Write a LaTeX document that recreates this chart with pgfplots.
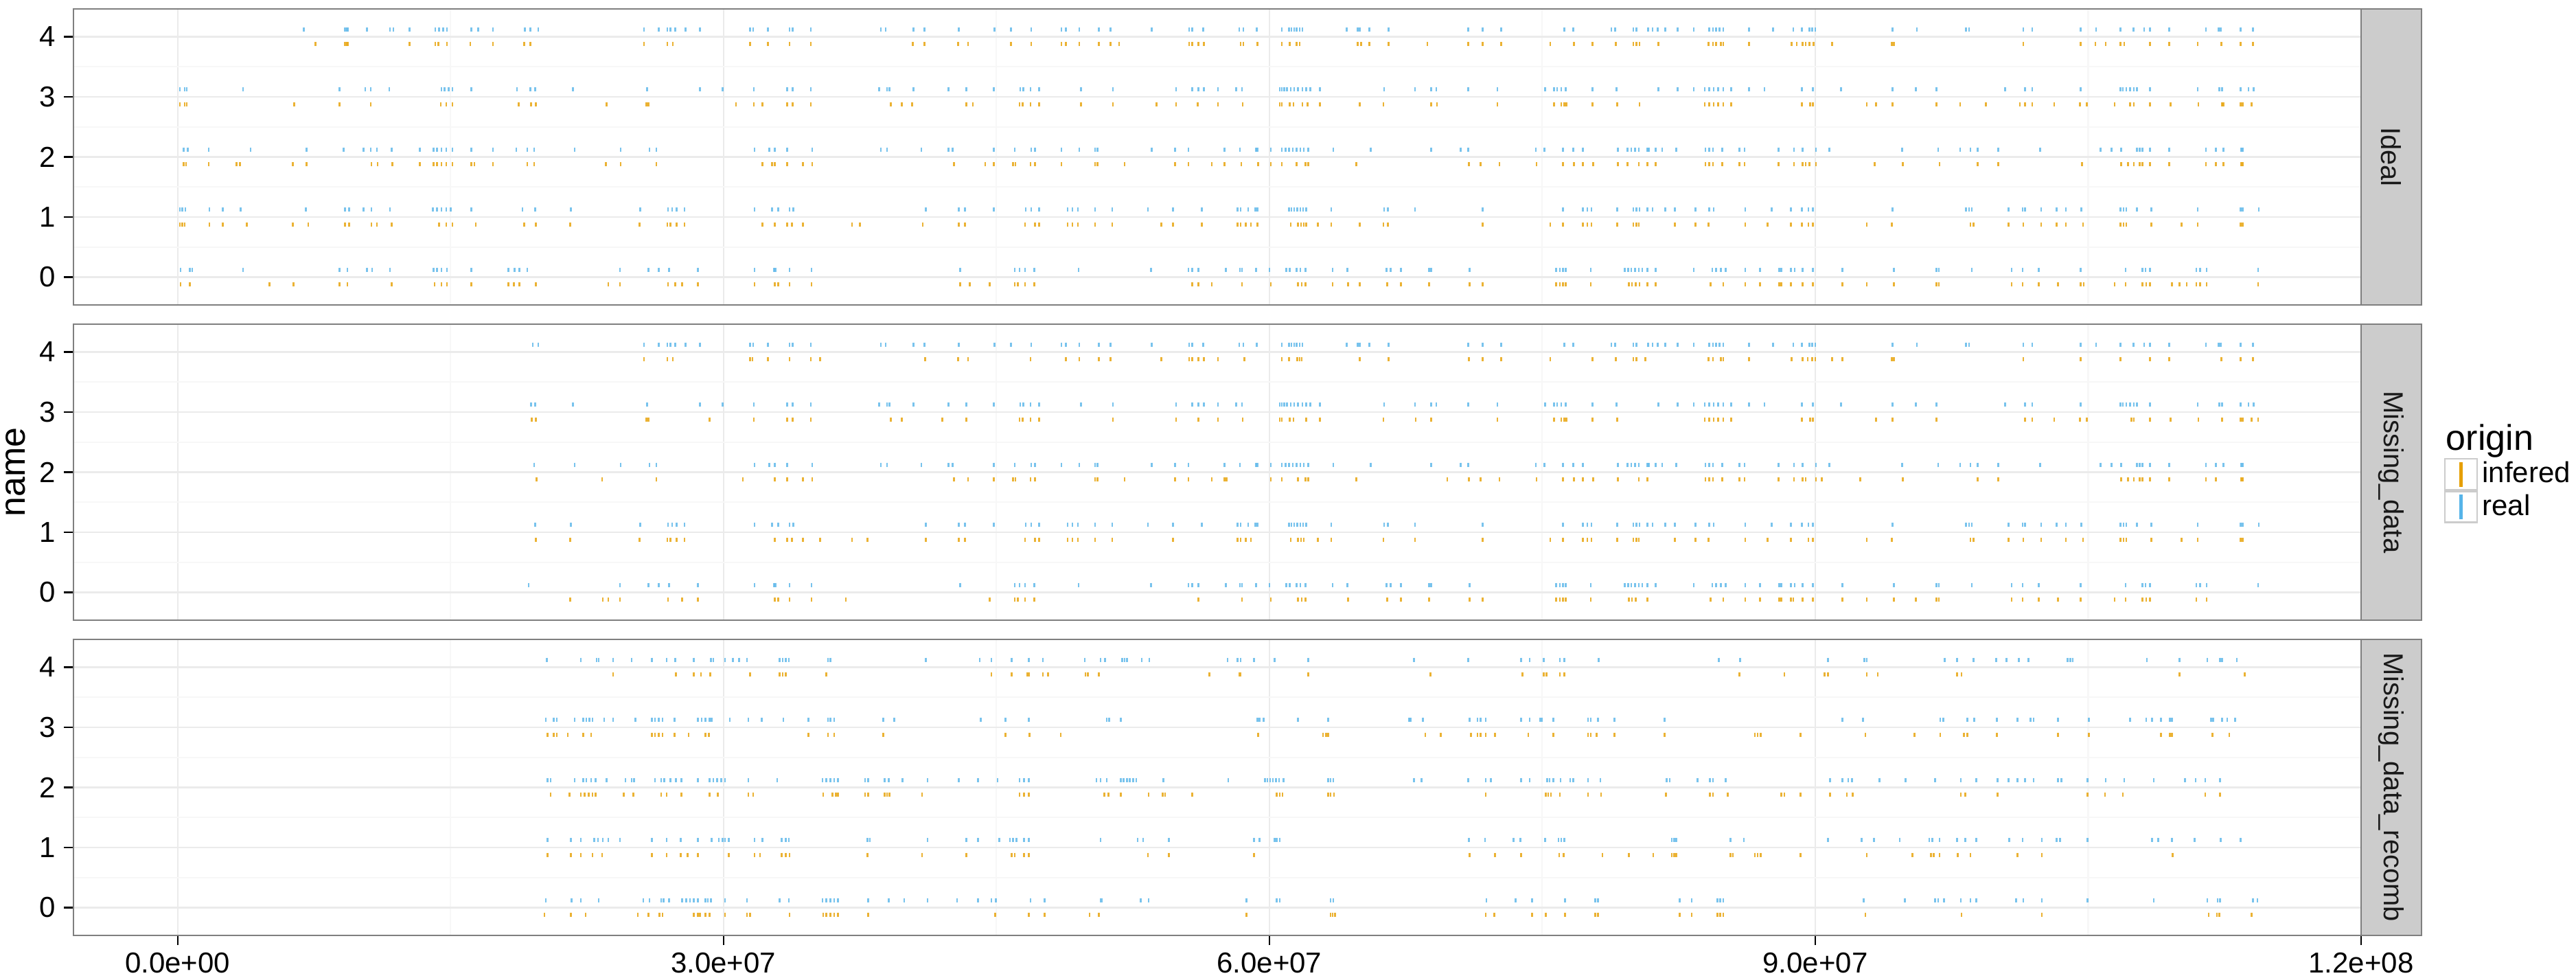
\documentclass[border=0pt]{standalone}
\usepackage{pgfplots}
\pgfplotsset{compat=1.18}
\usepackage{fontspec}
\setmainfont{Liberation Sans}
\definecolor{cinf}{HTML}{E69F00}
\definecolor{creal}{HTML}{56B4E9}
\definecolor{g50}{HTML}{7F7F7F}
\definecolor{g80}{HTML}{CCCCCC}
\definecolor{g90}{HTML}{EBEBEB}
\definecolor{g98}{HTML}{F7F7F7}
\pgfplotsset{
 facet/.style={
   scale only axis, width=833pt, height=107.75pt,
   xmin=-5.72, xmax=120, ymin=-0.4625, ymax=4.4625,
   xtick={0,30,60,90,120}, minor xtick={15,45,75,105},
   ytick={0,1,2,3,4}, minor ytick={0.5,1.5,2.5,3.5},
   yticklabels={0,1,2,3,4},
   grid=both,
   major grid style={draw=g90, line width=0.55pt},
   minor grid style={draw=g98, line width=0.55pt},
   axis line style={draw=g50, line width=0.5pt},
   tick align=outside, tick pos=left,
   major tick length=3.5pt, minor tick length=0pt,
   tick style={black, line width=0.55pt},
   yticklabel style={font=\fontsize{10.5}{12}\selectfont, inner sep=0pt, xshift=-2.75pt},
   xticklabel style={font=\fontsize{10.5}{12}\selectfont, inner sep=0pt, yshift=-2.5pt},
 },
 inf/.style={forget plot, only marks, mark=|, mark size=0.75pt, color=cinf, mark options={line width=0.65pt, draw opacity=0.8}},
 rea/.style={forget plot, only marks, mark=|, mark size=0.75pt, color=creal, mark options={line width=0.65pt, draw opacity=0.8}},
}
\begin{document}
\begin{tikzpicture}
% ---------------- Panel 1: Ideal ----------------
\begin{axis}[facet, at={(26.75pt,-3.25pt)}, anchor=north west, xticklabels={}, xtick style={draw=none}]
\addplot[rea] coordinates {(6.93,4.125)(9.2,4.125)(9.29,4.125)(9.35,4.125)(10.40,4.125)(11.68,4.125)(11.86,4.125)(12.75,4.125)(14.17,4.125)(14.38,4.125)(14.59,4.125)(14.81,4.125)(16.14,4.125)(16.52,4.125)(17.33,4.125)(19.09,4.125)(19.39,4.125)(19.82,4.125)(25.64,4.125)(26.45,4.125)(26.92,4.125)(27.09,4.125)(27.35,4.125)(27.91,4.125)(28.72,4.125)(31.46,4.125)(31.63,4.125)(32.44,4.125)(33.64,4.125)(33.81,4.125)(34.80,4.125)(38.65,4.125)(38.91,4.125)(40.45,4.125)(41.05,4.125)(42.93,4.125)(44.90,4.125)(45.80,4.125)(46.91,4.125)(48.58,4.125)(48.83,4.125)(49.56,4.125)(50.63,4.125)(51.27,4.125)(53.54,4.125)(55.60,4.125)(55.77,4.125)(56.37,4.125)(58.34,4.125)(58.58,4.125)(59.31,4.125)(60.69,4.125)(61.09,4.125)(61.21,4.125)(61.37,4.125)(61.50,4.125)(61.66,4.125)(61.82,4.125)(64.25,4.125)(64.85,4.125)(64.97,4.125)(65.50,4.125)(66.55,4.125)(70.92,4.125)(71.72,4.125)(72.74,4.125)(76.21,4.125)(76.70,4.125)(78.80,4.125)(79.00,4.125)(80.01,4.125)(80.17,4.125)(80.82,4.125)(81.06,4.125)(81.35,4.125)(81.75,4.125)(82.44,4.125)(83.33,4.125)(84.18,4.125)(84.38,4.125)(84.54,4.125)(84.74,4.125)(84.95,4.125)(86.36,4.125)(87.69,4.125)(88.79,4.125)(89.27,4.125)(89.68,4.125)(89.84,4.125)(90.00,4.125)(94.24,4.125)(95.58,4.125)(98.29,4.125)(98.45,4.125)(101.44,4.125)(101.93,4.125)(104.59,4.125)(105.44,4.125)(106.78,4.125)(107.50,4.125)(108.07,4.125)(108.39,4.125)(109.45,4.125)(111.47,4.125)(112.16,4.125)(112.28,4.125)(113.37,4.125)(114.06,4.125)};
\addplot[inf] coordinates {(7.58,3.875)(9.2,3.875)(9.29,3.875)(9.35,3.875)(12.75,3.875)(14.17,3.875)(14.34,3.875)(14.81,3.875)(16.09,3.875)(17.33,3.875)(19.05,3.875)(19.39,3.875)(25.64,3.875)(26.92,3.875)(27.22,3.875)(31.46,3.875)(32.44,3.875)(33.64,3.875)(34.80,3.875)(40.40,3.875)(41.05,3.875)(42.89,3.875)(43.44,3.875)(45.80,3.875)(46.91,3.875)(48.58,3.875)(48.83,3.875)(49.56,3.875)(50.63,3.875)(51.27,3.875)(51.75,3.875)(55.60,3.875)(55.77,3.875)(56.11,3.875)(56.41,3.875)(58.42,3.875)(58.58,3.875)(59.35,3.875)(60.69,3.875)(61.13,3.875)(61.50,3.875)(61.66,3.875)(64.85,3.875)(65.05,3.875)(65.50,3.875)(66.55,3.875)(68.69,3.875)(70.92,3.875)(71.72,3.875)(72.74,3.875)(75.44,3.875)(76.74,3.875)(77.75,3.875)(79.04,3.875)(80.01,3.875)(80.17,3.875)(80.34,3.875)(81.39,3.875)(84.14,3.875)(84.38,3.875)(84.54,3.875)(84.82,3.875)(84.95,3.875)(86.36,3.875)(88.71,3.875)(88.99,3.875)(89.31,3.875)(89.47,3.875)(89.68,3.875)(89.92,3.875)(90.93,3.875)(94.20,3.875)(94.32,3.875)(101.44,3.875)(104.59,3.875)(105.40,3.875)(105.97,3.875)(106.78,3.875)(106.98,3.875)(108.39,3.875)(109.45,3.875)(111.02,3.875)(112.32,3.875)(113.37,3.875)(114.06,3.875)};
\addplot[rea] coordinates {(0.13,3.125)(0.39,3.125)(0.51,3.125)(3.60,3.125)(8.90,3.125)(10.31,3.125)(10.61,3.125)(11.64,3.125)(14.51,3.125)(14.68,3.125)(14.89,3.125)(15.11,3.125)(16.14,3.125)(18.66,3.125)(19.39,3.125)(19.65,3.125)(21.74,3.125)(25.81,3.125)(28.72,3.125)(29.96,3.125)(31.67,3.125)(33.51,3.125)(33.81,3.125)(34.80,3.125)(38.56,3.125)(38.99,3.125)(39.12,3.125)(40.45,3.125)(42.37,3.125)(43.36,3.125)(44.85,3.125)(46.31,3.125)(46.48,3.125)(46.87,3.125)(47.34,3.125)(49.65,3.125)(51.40,3.125)(54.87,3.125)(55.77,3.125)(56.11,3.125)(56.41,3.125)(57.18,3.125)(58.18,3.125)(58.50,3.125)(60.57,3.125)(60.69,3.125)(60.81,3.125)(60.97,3.125)(61.17,3.125)(61.37,3.125)(61.58,3.125)(61.82,3.125)(62.02,3.125)(62.26,3.125)(62.79,3.125)(66.31,3.125)(68.01,3.125)(68.89,3.125)(69.18,3.125)(70.92,3.125)(72.53,3.125)(75.16,3.125)(75.65,3.125)(75.81,3.125)(76.05,3.125)(76.29,3.125)(77.75,3.125)(79.08,3.125)(81.39,3.125)(82.44,3.125)(83.33,3.125)(83.93,3.125)(84.18,3.125)(84.42,3.125)(84.66,3.125)(84.95,3.125)(85.39,3.125)(86.36,3.125)(87.21,3.125)(89.27,3.125)(89.88,3.125)(91.41,3.125)(94.24,3.125)(95.54,3.125)(96.67,3.125)(100.43,3.125)(101.52,3.125)(101.93,3.125)(104.59,3.125)(106.78,3.125)(106.90,3.125)(107.10,3.125)(107.30,3.125)(107.51,3.125)(107.67,3.125)(108.39,3.125)(111.02,3.125)(112.20,3.125)(112.36,3.125)(113.37,3.125)(113.81,3.125)(114.10,3.125)};
\addplot[inf] coordinates {(0.13,2.875)(0.39,2.875)(0.51,2.875)(6.42,2.875)(8.90,2.875)(10.61,2.875)(14.47,2.875)(14.77,2.875)(15.11,2.875)(18.75,2.875)(19.43,2.875)(19.69,2.875)(23.58,2.875)(25.77,2.875)(25.89,2.875)(30.69,2.875)(31.67,2.875)(32.14,2.875)(33.51,2.875)(33.81,2.875)(34.80,2.875)(39.20,2.875)(39.80,2.875)(40.36,2.875)(43.36,2.875)(43.70,2.875)(46.27,2.875)(46.44,2.875)(46.87,2.875)(47.34,2.875)(49.65,2.875)(51.40,2.875)(53.80,2.875)(54.87,2.875)(56.07,2.875)(57.18,2.875)(58.54,2.875)(60.57,2.875)(60.69,2.875)(61.13,2.875)(61.33,2.875)(61.82,2.875)(62.10,2.875)(62.79,2.875)(64.97,2.875)(66.27,2.875)(68.89,2.875)(69.22,2.875)(72.53,2.875)(75.65,2.875)(76.05,2.875)(76.21,2.875)(76.33,2.875)(77.75,2.875)(79.12,2.875)(80.34,2.875)(83.93,2.875)(84.18,2.875)(84.42,2.875)(84.66,2.875)(84.95,2.875)(85.39,2.875)(89.27,2.875)(89.72,2.875)(89.88,2.875)(92.83,2.875)(93.35,2.875)(94.24,2.875)(96.67,2.875)(97.96,2.875)(99.38,2.875)(101.24,2.875)(101.52,2.875)(101.93,2.875)(103.14,2.875)(104.55,2.875)(104.92,2.875)(106.45,2.875)(107.30,2.875)(107.51,2.875)(108.39,2.875)(109.53,2.875)(111.06,2.875)(112.36,2.875)(112.44,2.875)(113.37,2.875)(113.49,2.875)(113.97,2.875)};
\addplot[rea] coordinates {(0.34,2.125)(0.56,2.125)(1.71,2.125)(4.02,2.125)(7.10,2.125)(9.12,2.125)(10.23,2.125)(10.61,2.125)(10.96,2.125)(11.77,2.125)(13.31,2.125)(14.08,2.125)(14.25,2.125)(14.51,2.125)(14.77,2.125)(15.11,2.125)(16.14,2.125)(17.33,2.125)(18.62,2.125)(19.22,2.125)(19.60,2.125)(21.83,2.125)(24.35,2.125)(25.94,2.125)(26.32,2.125)(31.71,2.125)(32.53,2.125)(32.83,2.125)(33.51,2.125)(34.88,2.125)(38.65,2.125)(38.99,2.125)(40.87,2.125)(42.37,2.125)(42.59,2.125)(44.85,2.125)(46.01,2.125)(46.91,2.125)(47.12,2.125)(48.58,2.125)(49.56,2.125)(50.42,2.125)(50.55,2.125)(53.54,2.125)(54.83,2.125)(55.55,2.125)(57.53,2.125)(58.38,2.125)(59.27,2.125)(59.35,2.125)(60.08,2.125)(60.69,2.125)(60.89,2.125)(61.09,2.125)(61.29,2.125)(61.50,2.125)(61.70,2.125)(61.90,2.125)(62.14,2.125)(63.52,2.125)(65.58,2.125)(68.89,2.125)(70.51,2.125)(70.92,2.125)(74.64,2.125)(75.12,2.125)(76.13,2.125)(76.70,2.125)(77.22,2.125)(79.16,2.125)(79.69,2.125)(79.89,2.125)(80.09,2.125)(80.30,2.125)(80.78,2.125)(80.86,2.125)(81.23,2.125)(81.59,2.125)(82.36,2.125)(83.97,2.125)(84.18,2.125)(84.38,2.125)(84.90,2.125)(85.83,2.125)(86.12,2.125)(87.98,2.125)(88.83,2.125)(89.31,2.125)(90.04,2.125)(90.77,2.125)(94.77,2.125)(96.75,2.125)(97.96,2.125)(98.53,2.125)(98.93,2.125)(100.06,2.125)(102.37,2.125)(105.69,2.125)(106.29,2.125)(106.82,2.125)(107.67,2.125)(107.83,2.125)(107.99,2.125)(108.39,2.125)(109.45,2.125)(111.47,2.125)(112.03,2.125)(112.44,2.125)(113.41,2.125)(113.49,2.125)};
\addplot[inf] coordinates {(0.34,1.875)(0.47,1.875)(1.71,1.875)(3.25,1.875)(3.42,1.875)(6.33,1.875)(7.10,1.875)(10.66,1.875)(11.00,1.875)(11.81,1.875)(13.31,1.875)(14.08,1.875)(14.25,1.875)(14.51,1.875)(14.77,1.875)(15.11,1.875)(16.14,1.875)(16.31,1.875)(17.33,1.875)(19.22,1.875)(19.60,1.875)(23.54,1.875)(24.35,1.875)(26.32,1.875)(32.14,1.875)(32.66,1.875)(32.83,1.875)(33.51,1.875)(34.37,1.875)(34.88,1.875)(42.67,1.875)(44.38,1.875)(44.85,1.875)(45.92,1.875)(46.05,1.875)(46.87,1.875)(47.12,1.875)(48.58,1.875)(50.42,1.875)(50.55,1.875)(52.04,1.875)(54.83,1.875)(55.55,1.875)(56.84,1.875)(57.53,1.875)(58.46,1.875)(59.39,1.875)(60.08,1.875)(60.69,1.875)(61.50,1.875)(61.98,1.875)(62.14,1.875)(64.77,1.875)(70.96,1.875)(71.60,1.875)(72.65,1.875)(74.68,1.875)(76.13,1.875)(76.74,1.875)(77.22,1.875)(77.79,1.875)(79.16,1.875)(79.69,1.875)(80.30,1.875)(80.78,1.875)(81.23,1.875)(83.97,1.875)(84.18,1.875)(84.38,1.875)(84.90,1.875)(85.83,1.875)(86.12,1.875)(87.98,1.875)(88.83,1.875)(89.31,1.875)(89.47,1.875)(89.68,1.875)(90.04,1.875)(93.27,1.875)(94.81,1.875)(96.83,1.875)(98.93,1.875)(100.06,1.875)(104.67,1.875)(106.82,1.875)(107.18,1.875)(107.51,1.875)(107.83,1.875)(107.99,1.875)(108.39,1.875)(109.45,1.875)(111.47,1.875)(112.03,1.875)(112.44,1.875)(113.41,1.875)(113.49,1.875)};
\addplot[rea] coordinates {(0.13,1.125)(0.26,1.125)(0.43,1.125)(1.75,1.125)(2.48,1.125)(3.47,1.125)(7.06,1.125)(9.20,1.125)(9.42,1.125)(10.23,1.125)(10.66,1.125)(11.68,1.125)(14.04,1.125)(14.25,1.125)(14.51,1.125)(14.77,1.125)(15.02,1.125)(16.14,1.125)(18.96,1.125)(19.65,1.125)(21.61,1.125)(25.42,1.125)(26.96,1.125)(27.18,1.125)(27.43,1.125)(27.86,1.125)(31.71,1.125)(32.66,1.125)(33.00,1.125)(33.64,1.125)(33.85,1.125)(41.13,1.125)(42.93,1.125)(43.27,1.125)(44.85,1.125)(46.61,1.125)(46.91,1.125)(47.34,1.125)(48.92,1.125)(49.18,1.125)(49.48,1.125)(50.42,1.125)(51.36,1.125)(53.33,1.125)(54.70,1.125)(56.28,1.125)(58.26,1.125)(58.42,1.125)(58.83,1.125)(59.23,1.125)(59.35,1.125)(61.09,1.125)(61.21,1.125)(61.37,1.125)(61.54,1.125)(61.70,1.125)(61.86,1.125)(62.02,1.125)(63.40,1.125)(66.31,1.125)(66.51,1.125)(68.01,1.125)(71.72,1.125)(76.13,1.125)(77.22,1.125)(77.47,1.125)(77.71,1.125)(79.12,1.125)(80.01,1.125)(80.17,1.125)(80.34,1.125)(80.78,1.125)(81.06,1.125)(81.75,1.125)(82.28,1.125)(83.41,1.125)(84.18,1.125)(84.42,1.125)(86.16,1.125)(87.61,1.125)(88.67,1.125)(89.27,1.125)(89.63,1.125)(89.88,1.125)(94.24,1.125)(98.29,1.125)(98.45,1.125)(98.61,1.125)(100.63,1.125)(101.40,1.125)(101.52,1.125)(102.41,1.125)(103.26,1.125)(103.78,1.125)(104.63,1.125)(106.78,1.125)(106.94,1.125)(107.10,1.125)(107.67,1.125)(108.47,1.125)(111.02,1.125)(113.37,1.125)(113.49,1.125)(114.38,1.125)};
\addplot[inf] coordinates {(0.13,0.875)(0.26,0.875)(0.39,0.875)(1.75,0.875)(2.48,0.875)(3.81,0.875)(6.33,0.875)(7.19,0.875)(9.20,0.875)(9.42,0.875)(10.66,0.875)(10.96,0.875)(11.77,0.875)(14.38,0.875)(14.77,0.875)(15.11,0.875)(16.39,0.875)(19.05,0.875)(19.69,0.875)(21.57,0.875)(25.38,0.875)(26.92,0.875)(27.09,0.875)(27.43,0.875)(27.86,0.875)(32.14,0.875)(32.83,0.875)(33.51,0.875)(33.77,0.875)(34.37,0.875)(37.06,0.875)(37.49,0.875)(40.96,0.875)(42.93,0.875)(43.27,0.875)(46.57,0.875)(47.12,0.875)(47.34,0.875)(48.92,0.875)(49.18,0.875)(49.48,0.875)(50.42,0.875)(51.36,0.875)(54.06,0.875)(54.70,0.875)(56.28,0.875)(58.26,0.875)(58.42,0.875)(58.71,0.875)(58.99,0.875)(59.35,0.875)(61.17,0.875)(61.58,0.875)(61.74,0.875)(61.90,0.875)(62.02,0.875)(62.67,0.875)(63.40,0.875)(64.97,0.875)(66.27,0.875)(66.51,0.875)(71.72,0.875)(75.44,0.875)(76.13,0.875)(77.22,0.875)(77.47,0.875)(77.71,0.875)(79.12,0.875)(80.01,0.875)(80.17,0.875)(80.30,0.875)(82.28,0.875)(83.41,0.875)(84.14,0.875)(86.16,0.875)(87.37,0.875)(88.67,0.875)(89.27,0.875)(89.63,0.875)(89.88,0.875)(92.83,0.875)(94.20,0.875)(98.53,0.875)(98.69,0.875)(100.63,0.875)(101.44,0.875)(102.41,0.875)(103.26,0.875)(103.78,0.875)(104.72,0.875)(106.78,0.875)(106.94,0.875)(107.10,0.875)(108.47,0.875)(110.13,0.875)(111.02,0.875)(113.37,0.875)(113.49,0.875)};
\addplot[rea] coordinates {(0.17,0.125)(0.68,0.125)(0.81,0.125)(3.60,0.125)(8.90,0.125)(9.33,0.125)(10.40,0.125)(10.70,0.125)(11.68,0.125)(14.08,0.125)(14.25,0.125)(14.51,0.125)(14.81,0.125)(16.14,0.125)(18.19,0.125)(18.53,0.125)(18.79,0.125)(19.22,0.125)(24.31,0.125)(25.89,0.125)(26.45,0.125)(27.01,0.125)(28.59,0.125)(31.71,0.125)(32.78,0.125)(32.87,0.125)(33.64,0.125)(34.84,0.125)(43.01,0.125)(46.01,0.125)(46.27,0.125)(46.57,0.125)(47.08,0.125)(49.52,0.125)(53.50,0.125)(55.55,0.125)(55.77,0.125)(56.11,0.125)(57.61,0.125)(58.38,0.125)(58.50,0.125)(59.27,0.125)(60.00,0.125)(60.93,0.125)(61.13,0.125)(61.50,0.125)(61.70,0.125)(61.98,0.125)(63.48,0.125)(64.29,0.125)(66.43,0.125)(66.67,0.125)(67.24,0.125)(68.77,0.125)(68.89,0.125)(71.00,0.125)(75.77,0.125)(75.97,0.125)(76.13,0.125)(76.29,0.125)(77.67,0.125)(79.53,0.125)(79.73,0.125)(79.89,0.125)(80.09,0.125)(80.30,0.125)(80.50,0.125)(80.78,0.125)(81.23,0.125)(83.33,0.125)(84.34,0.125)(84.54,0.125)(84.82,0.125)(85.07,0.125)(86.16,0.125)(86.97,0.125)(88.02,0.125)(88.14,0.125)(88.67,0.125)(88.87,0.125)(89.31,0.125)(89.88,0.125)(91.50,0.125)(94.33,0.125)(96.67,0.125)(96.79,0.125)(98.61,0.125)(100.79,0.125)(101.40,0.125)(102.29,0.125)(104.59,0.125)(107.06,0.125)(107.99,0.125)(108.15,0.125)(108.39,0.125)(110.94,0.125)(111.14,0.125)(111.51,0.125)(114.34,0.125)};
\addplot[inf] coordinates {(0.17,-0.125)(0.68,-0.125)(5.05,-0.125)(6.38,-0.125)(8.90,-0.125)(9.33,-0.125)(11.77,-0.125)(14.12,-0.125)(14.51,-0.125)(14.81,-0.125)(16.14,-0.125)(18.19,-0.125)(18.49,-0.125)(18.79,-0.125)(19.69,-0.125)(23.67,-0.125)(24.31,-0.125)(26.96,-0.125)(27.35,-0.125)(27.73,-0.125)(28.59,-0.125)(31.71,-0.125)(32.83,-0.125)(33.00,-0.125)(33.64,-0.125)(34.84,-0.125)(43.01,-0.125)(43.53,-0.125)(44.64,-0.125)(46.01,-0.125)(46.18,-0.125)(46.57,-0.125)(47.08,-0.125)(55.77,-0.125)(56.11,-0.125)(56.84,-0.125)(58.50,-0.125)(60.08,-0.125)(61.58,-0.125)(61.78,-0.125)(61.98,-0.125)(63.48,-0.125)(64.33,-0.125)(64.97,-0.125)(66.47,-0.125)(67.24,-0.125)(68.77,-0.125)(71.00,-0.125)(71.72,-0.125)(75.77,-0.125)(75.97,-0.125)(76.13,-0.125)(76.29,-0.125)(77.67,-0.125)(79.77,-0.125)(79.93,-0.125)(80.13,-0.125)(80.34,-0.125)(80.78,-0.125)(81.23,-0.125)(84.26,-0.125)(84.95,-0.125)(86.16,-0.125)(86.97,-0.125)(88.02,-0.125)(88.14,-0.125)(88.67,-0.125)(89.31,-0.125)(89.88,-0.125)(91.50,-0.125)(92.83,-0.125)(94.33,-0.125)(96.67,-0.125)(96.79,-0.125)(100.79,-0.125)(101.40,-0.125)(102.29,-0.125)(103.34,-0.125)(104.59,-0.125)(104.76,-0.125)(106.45,-0.125)(107.06,-0.125)(107.99,-0.125)(108.19,-0.125)(108.39,-0.125)(109.61,-0.125)(110.01,-0.125)(110.42,-0.125)(110.94,-0.125)(111.14,-0.125)(111.51,-0.125)(114.34,-0.125)};
\end{axis}
% ---------------- Panel 2: Missing_data ----------------
\begin{axis}[facet, at={(26.75pt,-118pt)}, anchor=north west, xticklabels={}, xtick style={draw=none},
  legend style={at={(axis description cs:1.0363,0.5476)}, anchor=north west, draw=none, fill=none, inner sep=0pt, outer sep=0pt, row sep=0pt, column sep=1.5pt, font=\fontsize{10.5}{12}\selectfont, nodes={inner sep=0pt, outer sep=0pt}},
  legend cell align=left]
\addplot[rea] coordinates {(19.52,4.125)(19.82,4.125)(25.64,4.125)(26.45,4.125)(26.92,4.125)(27.09,4.125)(27.35,4.125)(27.91,4.125)(28.72,4.125)(31.46,4.125)(31.63,4.125)(32.44,4.125)(33.64,4.125)(33.81,4.125)(34.80,4.125)(38.65,4.125)(38.91,4.125)(40.45,4.125)(41.05,4.125)(42.93,4.125)(44.90,4.125)(45.80,4.125)(46.91,4.125)(48.58,4.125)(48.83,4.125)(49.56,4.125)(50.63,4.125)(51.27,4.125)(53.54,4.125)(55.60,4.125)(55.77,4.125)(56.37,4.125)(58.34,4.125)(58.58,4.125)(59.31,4.125)(60.69,4.125)(61.09,4.125)(61.21,4.125)(61.37,4.125)(61.50,4.125)(61.66,4.125)(61.82,4.125)(64.25,4.125)(64.85,4.125)(64.97,4.125)(65.50,4.125)(66.55,4.125)(70.92,4.125)(71.72,4.125)(72.74,4.125)(76.21,4.125)(76.70,4.125)(78.80,4.125)(79.00,4.125)(80.01,4.125)(80.17,4.125)(80.82,4.125)(81.06,4.125)(81.35,4.125)(81.75,4.125)(82.44,4.125)(83.33,4.125)(84.18,4.125)(84.38,4.125)(84.54,4.125)(84.74,4.125)(84.95,4.125)(86.36,4.125)(87.69,4.125)(88.79,4.125)(89.27,4.125)(89.68,4.125)(89.84,4.125)(90.00,4.125)(94.24,4.125)(95.58,4.125)(98.29,4.125)(98.45,4.125)(101.44,4.125)(101.93,4.125)(104.59,4.125)(105.44,4.125)(106.78,4.125)(107.50,4.125)(108.07,4.125)(108.39,4.125)(109.45,4.125)(111.47,4.125)(112.16,4.125)(112.28,4.125)(113.37,4.125)(114.06,4.125)};
\addplot[inf] coordinates {(25.64,3.875)(26.92,3.875)(27.22,3.875)(31.46,3.875)(31.59,3.875)(32.44,3.875)(33.64,3.875)(34.80,3.875)(35.31,3.875)(41.09,3.875)(42.89,3.875)(43.44,3.875)(46.87,3.875)(48.83,3.875)(49.56,3.875)(50.63,3.875)(51.27,3.875)(54.06,3.875)(55.60,3.875)(55.77,3.875)(56.11,3.875)(56.41,3.875)(57.18,3.875)(58.63,3.875)(60.69,3.875)(61.09,3.875)(61.54,3.875)(61.66,3.875)(61.78,3.875)(64.97,3.875)(66.55,3.875)(70.96,3.875)(71.72,3.875)(72.74,3.875)(75.44,3.875)(77.75,3.875)(79.04,3.875)(80.01,3.875)(80.17,3.875)(80.66,3.875)(84.14,3.875)(84.38,3.875)(84.82,3.875)(84.95,3.875)(86.36,3.875)(88.71,3.875)(89.31,3.875)(89.59,3.875)(89.84,3.875)(90.00,3.875)(90.93,3.875)(91.50,3.875)(94.20,3.875)(94.32,3.875)(101.44,3.875)(104.59,3.875)(106.78,3.875)(108.39,3.875)(109.45,3.875)(112.32,3.875)(113.37,3.875)(114.06,3.875)};
\addplot[rea] coordinates {(19.43,3.125)(19.65,3.125)(21.74,3.125)(25.81,3.125)(28.72,3.125)(29.96,3.125)(31.67,3.125)(33.51,3.125)(33.81,3.125)(34.80,3.125)(38.56,3.125)(38.99,3.125)(39.12,3.125)(40.45,3.125)(42.37,3.125)(43.36,3.125)(44.85,3.125)(46.31,3.125)(46.48,3.125)(46.87,3.125)(47.34,3.125)(49.65,3.125)(51.40,3.125)(54.87,3.125)(55.77,3.125)(56.11,3.125)(56.41,3.125)(57.18,3.125)(58.18,3.125)(58.50,3.125)(60.57,3.125)(60.69,3.125)(60.81,3.125)(60.97,3.125)(61.17,3.125)(61.37,3.125)(61.58,3.125)(61.82,3.125)(62.02,3.125)(62.26,3.125)(62.79,3.125)(66.31,3.125)(68.01,3.125)(68.89,3.125)(69.18,3.125)(70.92,3.125)(72.53,3.125)(75.16,3.125)(75.65,3.125)(75.81,3.125)(76.05,3.125)(76.29,3.125)(77.75,3.125)(79.08,3.125)(81.39,3.125)(82.44,3.125)(83.33,3.125)(83.93,3.125)(84.18,3.125)(84.42,3.125)(84.66,3.125)(84.95,3.125)(85.39,3.125)(86.36,3.125)(87.21,3.125)(89.27,3.125)(89.88,3.125)(91.41,3.125)(94.24,3.125)(95.54,3.125)(96.67,3.125)(100.43,3.125)(101.52,3.125)(101.93,3.125)(104.59,3.125)(106.78,3.125)(106.90,3.125)(107.10,3.125)(107.30,3.125)(107.51,3.125)(107.67,3.125)(108.39,3.125)(111.02,3.125)(112.20,3.125)(112.36,3.125)(113.37,3.125)(113.81,3.125)(114.10,3.125)};
\addplot[inf] coordinates {(19.47,2.875)(19.69,2.875)(25.77,2.875)(25.89,2.875)(29.23,2.875)(31.67,2.875)(33.51,2.875)(33.81,2.875)(34.80,2.875)(39.20,2.875)(39.80,2.875)(42.03,2.875)(43.36,2.875)(46.27,2.875)(46.44,2.875)(46.87,2.875)(47.34,2.875)(51.40,2.875)(54.87,2.875)(56.11,2.875)(57.18,2.875)(58.54,2.875)(60.57,2.875)(60.69,2.875)(61.13,2.875)(61.33,2.875)(62.02,2.875)(62.79,2.875)(66.27,2.875)(68.05,2.875)(68.89,2.875)(72.53,2.875)(75.65,2.875)(76.05,2.875)(76.21,2.875)(76.33,2.875)(77.75,2.875)(79.12,2.875)(83.93,2.875)(84.18,2.875)(84.42,2.875)(84.66,2.875)(84.95,2.875)(85.39,2.875)(89.27,2.875)(89.72,2.875)(89.88,2.875)(93.35,2.875)(94.24,2.875)(96.67,2.875)(101.52,2.875)(101.93,2.875)(103.14,2.875)(104.55,2.875)(104.92,2.875)(107.38,2.875)(107.51,2.875)(108.39,2.875)(109.53,2.875)(111.06,2.875)(112.36,2.875)(113.37,2.875)(113.49,2.875)(113.97,2.875)(114.34,2.875)};
\addplot[rea] coordinates {(19.60,2.125)(21.83,2.125)(24.35,2.125)(25.94,2.125)(26.32,2.125)(31.71,2.125)(32.53,2.125)(32.83,2.125)(33.51,2.125)(34.88,2.125)(38.65,2.125)(38.99,2.125)(40.87,2.125)(42.37,2.125)(42.59,2.125)(44.85,2.125)(46.01,2.125)(46.91,2.125)(47.12,2.125)(48.58,2.125)(49.56,2.125)(50.42,2.125)(50.55,2.125)(53.54,2.125)(54.83,2.125)(55.55,2.125)(57.53,2.125)(58.38,2.125)(59.27,2.125)(59.35,2.125)(60.08,2.125)(60.69,2.125)(60.89,2.125)(61.09,2.125)(61.29,2.125)(61.50,2.125)(61.70,2.125)(61.90,2.125)(62.14,2.125)(63.52,2.125)(65.58,2.125)(68.89,2.125)(70.51,2.125)(70.92,2.125)(74.64,2.125)(75.12,2.125)(76.13,2.125)(76.70,2.125)(77.22,2.125)(79.16,2.125)(79.69,2.125)(79.89,2.125)(80.09,2.125)(80.30,2.125)(80.78,2.125)(80.86,2.125)(81.23,2.125)(81.59,2.125)(82.36,2.125)(83.97,2.125)(84.18,2.125)(84.38,2.125)(84.90,2.125)(85.83,2.125)(86.12,2.125)(87.98,2.125)(88.83,2.125)(89.31,2.125)(90.04,2.125)(90.77,2.125)(94.77,2.125)(96.75,2.125)(97.96,2.125)(98.53,2.125)(98.93,2.125)(100.06,2.125)(102.37,2.125)(105.69,2.125)(106.29,2.125)(106.82,2.125)(107.67,2.125)(107.83,2.125)(107.99,2.125)(108.39,2.125)(109.45,2.125)(111.47,2.125)(112.03,2.125)(112.44,2.125)(113.41,2.125)(113.49,2.125)};
\addplot[inf] coordinates {(19.73,1.875)(23.33,1.875)(26.32,1.875)(31.07,1.875)(32.83,1.875)(33.51,1.875)(34.37,1.875)(34.88,1.875)(42.67,1.875)(43.44,1.875)(44.85,1.875)(45.92,1.875)(46.05,1.875)(46.87,1.875)(47.12,1.875)(50.42,1.875)(50.55,1.875)(52.04,1.875)(54.83,1.875)(55.55,1.875)(56.84,1.875)(57.53,1.875)(57.66,1.875)(60.08,1.875)(60.69,1.875)(61.58,1.875)(61.98,1.875)(62.14,1.875)(64.77,1.875)(69.78,1.875)(70.96,1.875)(71.60,1.875)(72.65,1.875)(74.68,1.875)(76.13,1.875)(76.74,1.875)(77.22,1.875)(77.79,1.875)(79.16,1.875)(80.30,1.875)(80.78,1.875)(83.97,1.875)(84.18,1.875)(84.38,1.875)(84.90,1.875)(85.83,1.875)(86.12,1.875)(87.98,1.875)(88.83,1.875)(89.31,1.875)(89.47,1.875)(90.04,1.875)(90.36,1.875)(92.47,1.875)(94.81,1.875)(98.93,1.875)(100.06,1.875)(106.82,1.875)(107.18,1.875)(107.51,1.875)(107.83,1.875)(107.99,1.875)(108.39,1.875)(109.45,1.875)(111.47,1.875)(112.03,1.875)(113.41,1.875)(113.49,1.875)};
\addplot[rea] coordinates {(19.65,1.125)(21.61,1.125)(25.42,1.125)(26.96,1.125)(27.18,1.125)(27.43,1.125)(27.86,1.125)(31.71,1.125)(32.66,1.125)(33.00,1.125)(33.64,1.125)(33.85,1.125)(41.13,1.125)(42.93,1.125)(43.27,1.125)(44.85,1.125)(46.61,1.125)(46.91,1.125)(47.34,1.125)(48.92,1.125)(49.18,1.125)(49.48,1.125)(50.42,1.125)(51.36,1.125)(53.33,1.125)(54.70,1.125)(56.28,1.125)(58.26,1.125)(58.42,1.125)(58.83,1.125)(59.23,1.125)(59.35,1.125)(61.09,1.125)(61.21,1.125)(61.37,1.125)(61.54,1.125)(61.70,1.125)(61.86,1.125)(62.02,1.125)(63.40,1.125)(66.31,1.125)(66.51,1.125)(68.01,1.125)(71.72,1.125)(76.13,1.125)(77.22,1.125)(77.47,1.125)(77.71,1.125)(79.12,1.125)(80.01,1.125)(80.17,1.125)(80.34,1.125)(80.78,1.125)(81.06,1.125)(81.75,1.125)(82.28,1.125)(83.41,1.125)(84.18,1.125)(84.42,1.125)(86.16,1.125)(87.61,1.125)(88.67,1.125)(89.27,1.125)(89.63,1.125)(89.88,1.125)(94.24,1.125)(98.29,1.125)(98.45,1.125)(98.61,1.125)(100.63,1.125)(101.40,1.125)(101.52,1.125)(102.41,1.125)(103.26,1.125)(103.78,1.125)(104.63,1.125)(106.78,1.125)(106.94,1.125)(107.10,1.125)(107.67,1.125)(108.47,1.125)(111.02,1.125)(113.37,1.125)(113.49,1.125)(114.38,1.125)};
\addplot[inf] coordinates {(19.69,0.875)(21.57,0.875)(25.38,0.875)(26.92,0.875)(27.09,0.875)(27.43,0.875)(27.86,0.875)(32.83,0.875)(33.51,0.875)(33.77,0.875)(34.37,0.875)(35.31,0.875)(37.06,0.875)(37.92,0.875)(41.13,0.875)(42.93,0.875)(43.27,0.875)(46.57,0.875)(47.12,0.875)(47.34,0.875)(48.92,0.875)(49.18,0.875)(49.48,0.875)(50.42,0.875)(51.36,0.875)(54.70,0.875)(58.26,0.875)(58.42,0.875)(58.71,0.875)(58.99,0.875)(61.17,0.875)(61.58,0.875)(61.74,0.875)(61.90,0.875)(62.67,0.875)(63.40,0.875)(66.27,0.875)(68.01,0.875)(71.72,0.875)(75.44,0.875)(76.13,0.875)(77.22,0.875)(77.47,0.875)(77.71,0.875)(79.12,0.875)(80.01,0.875)(80.17,0.875)(80.30,0.875)(82.28,0.875)(83.41,0.875)(84.14,0.875)(86.16,0.875)(87.37,0.875)(88.67,0.875)(89.63,0.875)(89.88,0.875)(92.83,0.875)(94.20,0.875)(98.53,0.875)(98.69,0.875)(100.63,0.875)(101.44,0.875)(102.41,0.875)(103.78,0.875)(104.72,0.875)(106.78,0.875)(106.94,0.875)(107.10,0.875)(108.47,0.875)(110.13,0.875)(111.02,0.875)(113.37,0.875)(113.49,0.875)};
\addplot[rea] coordinates {(19.30,0.125)(24.31,0.125)(25.89,0.125)(26.45,0.125)(27.01,0.125)(28.59,0.125)(31.71,0.125)(32.78,0.125)(32.87,0.125)(33.64,0.125)(34.84,0.125)(43.01,0.125)(46.01,0.125)(46.27,0.125)(46.57,0.125)(47.08,0.125)(49.52,0.125)(53.50,0.125)(55.55,0.125)(55.77,0.125)(56.11,0.125)(57.61,0.125)(58.38,0.125)(58.50,0.125)(59.27,0.125)(60.00,0.125)(60.93,0.125)(61.13,0.125)(61.50,0.125)(61.70,0.125)(61.98,0.125)(63.48,0.125)(64.29,0.125)(66.43,0.125)(66.67,0.125)(67.24,0.125)(68.77,0.125)(68.89,0.125)(71.00,0.125)(75.77,0.125)(75.97,0.125)(76.13,0.125)(76.29,0.125)(77.67,0.125)(79.53,0.125)(79.73,0.125)(79.89,0.125)(80.09,0.125)(80.30,0.125)(80.50,0.125)(80.78,0.125)(81.23,0.125)(83.33,0.125)(84.34,0.125)(84.54,0.125)(84.82,0.125)(85.07,0.125)(86.16,0.125)(86.97,0.125)(88.02,0.125)(88.14,0.125)(88.67,0.125)(88.87,0.125)(89.31,0.125)(89.88,0.125)(91.50,0.125)(94.33,0.125)(96.67,0.125)(96.79,0.125)(98.61,0.125)(100.79,0.125)(101.40,0.125)(102.29,0.125)(104.59,0.125)(107.06,0.125)(107.99,0.125)(108.15,0.125)(108.39,0.125)(110.94,0.125)(111.14,0.125)(111.51,0.125)(114.34,0.125)};
\addplot[inf] coordinates {(21.57,-0.125)(23.37,-0.125)(23.67,-0.125)(24.31,-0.125)(26.96,-0.125)(27.73,-0.125)(28.59,-0.125)(32.83,-0.125)(33.00,-0.125)(33.64,-0.125)(34.84,-0.125)(36.72,-0.125)(44.64,-0.125)(46.01,-0.125)(46.18,-0.125)(46.57,-0.125)(47.08,-0.125)(56.11,-0.125)(58.50,-0.125)(60.08,-0.125)(61.58,-0.125)(61.78,-0.125)(61.98,-0.125)(64.33,-0.125)(66.47,-0.125)(67.24,-0.125)(68.77,-0.125)(71.00,-0.125)(71.72,-0.125)(75.77,-0.125)(75.97,-0.125)(76.13,-0.125)(76.29,-0.125)(77.67,-0.125)(79.77,-0.125)(79.93,-0.125)(80.13,-0.125)(80.78,-0.125)(84.26,-0.125)(84.95,-0.125)(86.16,-0.125)(86.97,-0.125)(88.02,-0.125)(88.14,-0.125)(88.67,-0.125)(88.79,-0.125)(89.31,-0.125)(89.88,-0.125)(91.50,-0.125)(92.83,-0.125)(94.33,-0.125)(95.54,-0.125)(96.67,-0.125)(96.79,-0.125)(100.79,-0.125)(101.40,-0.125)(102.29,-0.125)(103.34,-0.125)(104.59,-0.125)(106.45,-0.125)(107.06,-0.125)(107.99,-0.125)(108.19,-0.125)(108.39,-0.125)(110.94,-0.125)(111.51,-0.125)};
\addlegendimage{legend image code/.code={\draw[draw=g80, line width=0.6pt, fill=white] (0pt,-5.625pt) rectangle (11.75pt,5.625pt); \draw[cinf, line width=1.25pt] (5.875pt,-4.5pt) -- (5.875pt,4.5pt);}}
\addlegendentry{infered}
\addlegendimage{legend image code/.code={\draw[draw=g80, line width=0.6pt, fill=white] (0pt,-5.625pt) rectangle (11.75pt,5.625pt); \draw[creal, line width=1.25pt] (5.875pt,-4.5pt) -- (5.875pt,4.5pt);}}
\addlegendentry{real}
\end{axis}
% ---------------- Panel 3: Missing_data_recomb ----------------
\begin{axis}[facet, at={(26.75pt,-232.75pt)}, anchor=north west, xticklabels={0.0e+00,3.0e+07,6.0e+07,9.0e+07,1.2e+08}]
\addplot[rea] coordinates {(20.29,4.125)(22.17,4.125)(23.03,4.125)(23.15,4.125)(23.93,4.125)(24.95,4.125)(26.06,4.125)(26.88,4.125)(27.35,4.125)(28.38,4.125)(29.32,4.125)(29.45,4.125)(30.09,4.125)(30.52,4.125)(30.86,4.125)(31.29,4.125)(33.08,4.125)(33.26,4.125)(33.43,4.125)(33.60,4.125)(35.74,4.125)(35.87,4.125)(41.13,4.125)(44.08,4.125)(44.73,4.125)(45.84,4.125)(46.78,4.125)(47.55,4.125)(49.86,4.125)(50.72,4.125)(50.97,4.125)(51.92,4.125)(52.04,4.125)(52.17,4.125)(52.99,4.125)(53.41,4.125)(57.70,4.125)(58.26,4.125)(58.42,4.125)(59.15,4.125)(60.28,4.125)(62.14,4.125)(67.96,4.125)(70.92,4.125)(73.83,4.125)(74.31,4.125)(75.08,4.125)(75.97,4.125)(76.21,4.125)(78.11,4.125)(84.70,4.125)(85.88,4.125)(90.69,4.125)(92.71,4.125)(92.83,4.125)(97.11,4.125)(97.80,4.125)(98.69,4.125)(99.94,4.125)(100.51,4.125)(101.20,4.125)(101.72,4.125)(103.87,4.125)(104.03,4.125)(104.15,4.125)(108.23,4.125)(110.01,4.125)(111.55,4.125)(112.24,4.125)(112.36,4.125)(113.17,4.125)};
\addplot[inf] coordinates {(23.93,3.875)(27.39,3.875)(28.38,3.875)(28.76,3.875)(29.28,3.875)(31.46,3.875)(33.08,3.875)(33.26,3.875)(33.43,3.875)(35.65,3.875)(44.73,3.875)(45.84,3.875)(46.69,3.875)(46.78,3.875)(47.55,3.875)(47.85,3.875)(49.90,3.875)(50.03,3.875)(50.63,3.875)(56.71,3.875)(58.34,3.875)(58.42,3.875)(62.14,3.875)(68.85,3.875)(73.91,3.875)(75.08,3.875)(75.24,3.875)(75.97,3.875)(76.21,3.875)(85.83,3.875)(88.30,3.875)(90.52,3.875)(90.69,3.875)(92.83,3.875)(93.43,3.875)(97.80,3.875)(98.04,3.875)(110.01,3.875)(113.61,3.875)};
\addplot[rea] coordinates {(20.24,3.125)(20.67,3.125)(20.84,3.125)(21.83,3.125)(22.30,3.125)(22.47,3.125)(22.64,3.125)(22.81,3.125)(23.45,3.125)(23.93,3.125)(25.17,3.125)(26.06,3.125)(26.24,3.125)(26.45,3.125)(26.66,3.125)(27.31,3.125)(28.59,3.125)(28.80,3.125)(29.02,3.125)(29.23,3.125)(29.36,3.125)(30.35,3.125)(31.37,3.125)(32.10,3.125)(33.30,3.125)(34.67,3.125)(35.74,3.125)(35.87,3.125)(36.08,3.125)(38.78,3.125)(39.38,3.125)(44.13,3.125)(45.50,3.125)(46.78,3.125)(51.06,3.125)(51.19,3.125)(51.83,3.125)(59.35,3.125)(59.47,3.125)(59.68,3.125)(61.58,3.125)(63.23,3.125)(67.68,3.125)(67.76,3.125)(68.45,3.125)(71.00,3.125)(71.44,3.125)(71.60,3.125)(71.89,3.125)(73.83,3.125)(74.31,3.125)(74.88,3.125)(74.96,3.125)(75.61,3.125)(77.51,3.125)(77.67,3.125)(78.07,3.125)(78.96,3.125)(81.71,3.125)(91.50,3.125)(92.63,3.125)(96.87,3.125)(97.03,3.125)(98.37,3.125)(98.73,3.125)(99.99,3.125)(101.12,3.125)(101.84,3.125)(102.00,3.125)(103.34,3.125)(105.04,3.125)(107.30,3.125)(108.19,3.125)(108.51,3.125)(109.00,3.125)(109.49,3.125)(109.61,3.125)(111.75,3.125)(111.87,3.125)(112.36,3.125)(112.64,3.125)(113.08,3.125)};
\addplot[inf] coordinates {(20.33,2.875)(20.67,2.875)(20.84,2.875)(21.44,2.875)(22.30,2.875)(22.73,2.875)(26.06,2.875)(26.24,2.875)(26.45,2.875)(26.66,2.875)(27.31,2.875)(28.08,2.875)(29.02,2.875)(29.19,2.875)(34.67,2.875)(35.74,2.875)(36.08,2.875)(38.78,2.875)(45.50,2.875)(46.82,2.875)(48.53,2.875)(59.39,2.875)(62.95,2.875)(63.11,2.875)(63.23,2.875)(68.57,2.875)(69.42,2.875)(71.08,2.875)(71.44,2.875)(71.60,2.875)(71.89,2.875)(72.41,2.875)(74.23,2.875)(75.61,2.875)(77.51,2.875)(77.67,2.875)(77.99,2.875)(78.96,2.875)(81.71,2.875)(86.68,2.875)(86.84,2.875)(87.01,2.875)(89.19,2.875)(92.75,2.875)(95.46,2.875)(96.87,2.875)(98.17,2.875)(98.37,2.875)(99.99,2.875)(103.34,2.875)(105.04,2.875)(109.00,2.875)(109.49,2.875)(109.61,2.875)(111.83,2.875)(112.76,2.875)};
\addplot[rea] coordinates {(20.33,2.125)(20.50,2.125)(21.83,2.125)(22.30,2.125)(22.47,2.125)(22.73,2.125)(22.98,2.125)(23.58,2.125)(24.61,2.125)(24.95,2.125)(25.08,2.125)(26.24,2.125)(26.58,2.125)(26.75,2.125)(27.09,2.125)(27.39,2.125)(27.69,2.125)(28.59,2.125)(29.23,2.125)(29.45,2.125)(29.66,2.125)(29.87,2.125)(30.09,2.125)(31.37,2.125)(32.96,2.125)(35.44,2.125)(35.65,2.125)(35.87,2.125)(36.08,2.125)(36.29,2.125)(37.79,2.125)(37.96,2.125)(38.86,2.125)(39.08,2.125)(39.85,2.125)(41.22,2.125)(42.93,2.125)(44.00,2.125)(45.07,2.125)(46.27,2.125)(46.52,2.125)(46.78,2.125)(50.50,2.125)(50.72,2.125)(51.06,2.125)(51.83,2.125)(52.00,2.125)(52.17,2.125)(52.34,2.125)(52.52,2.125)(52.69,2.125)(54.18,2.125)(57.74,2.125)(59.76,2.125)(59.89,2.125)(60.04,2.125)(60.20,2.125)(60.36,2.125)(60.53,2.125)(60.77,2.125)(63.23,2.125)(63.36,2.125)(63.52,2.125)(67.96,2.125)(68.37,2.125)(70.92,2.125)(71.89,2.125)(72.17,2.125)(73.83,2.125)(74.31,2.125)(75.28,2.125)(75.40,2.125)(75.61,2.125)(76.01,2.125)(76.54,2.125)(76.70,2.125)(77.51,2.125)(78.19,2.125)(81.83,2.125)(82.00,2.125)(83.53,2.125)(84.22,2.125)(84.38,2.125)(85.07,2.125)(90.81,2.125)(91.50,2.125)(91.82,2.125)(92.02,2.125)(93.52,2.125)(94.97,2.125)(96.59,2.125)(98.00,2.125)(98.85,2.125)(100.03,2.125)(100.63,2.125)(101.12,2.125)(101.52,2.125)(102.00,2.125)(103.34,2.125)(103.54,2.125)(104.96,2.125)(105.97,2.125)(106.98,2.125)(108.60,2.125)(110.33,2.125)(110.90,2.125)(111.43,2.125)(112.24,2.125)};
\addplot[inf] coordinates {(20.50,1.875)(21.53,1.875)(22.17,1.875)(22.38,1.875)(22.60,1.875)(22.81,1.875)(22.98,1.875)(24.52,1.875)(25.04,1.875)(26.58,1.875)(26.88,1.875)(27.69,1.875)(29.23,1.875)(29.70,1.875)(31.37,1.875)(31.63,1.875)(35.48,1.875)(35.99,1.875)(36.17,1.875)(36.29,1.875)(37.79,1.875)(37.96,1.875)(38.86,1.875)(38.99,1.875)(39.12,1.875)(40.92,1.875)(46.27,1.875)(46.52,1.875)(46.78,1.875)(50.93,1.875)(51.15,1.875)(51.83,1.875)(53.37,1.875)(54.14,1.875)(54.27,1.875)(55.77,1.875)(60.40,1.875)(60.57,1.875)(60.73,1.875)(63.23,1.875)(63.36,1.875)(63.56,1.875)(71.89,1.875)(75.20,1.875)(75.32,1.875)(75.48,1.875)(75.97,1.875)(77.51,1.875)(78.23,1.875)(81.79,1.875)(84.22,1.875)(84.38,1.875)(85.19,1.875)(88.14,1.875)(88.30,1.875)(89.19,1.875)(90.81,1.875)(91.74,1.875)(92.06,1.875)(98.00,1.875)(98.25,1.875)(100.03,1.875)(104.96,1.875)(105.93,1.875)(106.90,1.875)(111.43,1.875)(112.24,1.875)};
\addplot[rea] coordinates {(20.33,1.125)(21.61,1.125)(22.17,1.125)(22.90,1.125)(23.11,1.125)(23.37,1.125)(23.67,1.125)(24.31,1.125)(26.06,1.125)(26.88,1.125)(27.65,1.125)(28.59,1.125)(29.36,1.125)(29.75,1.125)(29.96,1.125)(30.09,1.125)(30.30,1.125)(31.71,1.125)(32.14,1.125)(33.21,1.125)(33.43,1.125)(33.60,1.125)(37.92,1.125)(38.05,1.125)(41.22,1.125)(43.36,1.125)(44.00,1.125)(45.15,1.125)(45.75,1.125)(45.92,1.125)(46.10,1.125)(46.52,1.125)(46.78,1.125)(50.72,1.125)(52.77,1.125)(53.07,1.125)(54.48,1.125)(59.15,1.125)(59.47,1.125)(60.28,1.125)(60.40,1.125)(60.57,1.125)(70.96,1.125)(71.85,1.125)(73.42,1.125)(73.79,1.125)(75.16,1.125)(75.89,1.125)(76.05,1.125)(76.21,1.125)(82.12,1.125)(82.24,1.125)(82.36,1.125)(85.35,1.125)(86.08,1.125)(90.69,1.125)(92.55,1.125)(93.23,1.125)(94.65,1.125)(96.27,1.125)(96.43,1.125)(96.83,1.125)(97.80,1.125)(98.25,1.125)(98.85,1.125)(100.67,1.125)(101.40,1.125)(102.45,1.125)(103.26,1.125)(103.46,1.125)(104.96,1.125)(108.51,1.125)(108.84,1.125)(109.61,1.125)(110.86,1.125)(112.28,1.125)(113.37,1.125)};
\addplot[inf] coordinates {(20.33,0.875)(21.61,0.875)(22.17,0.875)(22.81,0.875)(23.33,0.875)(26.06,0.875)(26.88,0.875)(27.65,0.875)(28.03,0.875)(28.59,0.875)(30.30,0.875)(31.71,0.875)(32.01,0.875)(33.21,0.875)(33.43,0.875)(33.64,0.875)(37.92,0.875)(40.92,0.875)(43.36,0.875)(45.84,0.875)(46.01,0.875)(46.52,0.875)(46.78,0.875)(53.33,0.875)(54.48,0.875)(59.15,0.875)(71.00,0.875)(72.41,0.875)(73.83,0.875)(75.93,0.875)(76.17,0.875)(78.31,0.875)(79.77,0.875)(81.10,0.875)(82.12,0.875)(82.24,0.875)(82.36,0.875)(85.35,0.875)(85.47,0.875)(86.68,0.875)(86.84,0.875)(87.01,0.875)(89.19,0.875)(92.83,0.875)(95.34,0.875)(96.35,0.875)(96.51,0.875)(96.83,0.875)(97.84,0.875)(98.53,0.875)(101.12,0.875)(102.45,0.875)(109.65,0.875)};
\addplot[rea] coordinates {(20.24,0.125)(21.66,0.125)(22.17,0.125)(23.15,0.125)(25.59,0.125)(25.94,0.125)(26.58,0.125)(26.71,0.125)(27.01,0.125)(27.73,0.125)(27.95,0.125)(28.16,0.125)(28.38,0.125)(28.59,0.125)(29.02,0.125)(29.15,0.125)(29.32,0.125)(30.09,0.125)(31.29,0.125)(33.08,0.125)(33.60,0.125)(35.44,0.125)(35.65,0.125)(35.87,0.125)(36.08,0.125)(36.29,0.125)(37.96,0.125)(39.08,0.125)(39.93,0.125)(41.22,0.125)(42.84,0.125)(44.00,0.125)(44.73,0.125)(44.98,0.125)(46.87,0.125)(47.64,0.125)(50.72,0.125)(50.80,0.125)(52.94,0.125)(53.37,0.125)(58.75,0.125)(60.40,0.125)(60.57,0.125)(63.36,0.125)(63.52,0.125)(71.93,0.125)(73.54,0.125)(74.43,0.125)(76.25,0.125)(77.91,0.125)(78.07,0.125)(82.56,0.125)(83.21,0.125)(84.62,0.125)(84.78,0.125)(84.95,0.125)(92.67,0.125)(94.93,0.125)(96.59,0.125)(96.75,0.125)(97.07,0.125)(98.00,0.125)(98.53,0.125)(98.85,0.125)(101.04,0.125)(101.44,0.125)(102.45,0.125)(104.96,0.125)(108.60,0.125)(111.55,0.125)(112.12,0.125)(112.24,0.125)(114.06,0.125)(114.30,0.125)};
\addplot[inf] coordinates {(20.16,-0.125)(21.61,-0.125)(22.43,-0.125)(25.29,-0.125)(25.89,-0.125)(26.49,-0.125)(26.66,-0.125)(28.38,-0.125)(28.59,-0.125)(28.72,-0.125)(29.02,-0.125)(29.23,-0.125)(30.09,-0.125)(31.29,-0.125)(31.46,-0.125)(33.64,-0.125)(35.48,-0.125)(35.65,-0.125)(35.87,-0.125)(36.08,-0.125)(36.29,-0.125)(37.96,-0.125)(44.94,-0.125)(46.78,-0.125)(47.64,-0.125)(50.12,-0.125)(50.63,-0.125)(58.75,-0.125)(63.36,-0.125)(63.48,-0.125)(63.60,-0.125)(71.89,-0.125)(72.37,-0.125)(74.43,-0.125)(75.20,-0.125)(76.25,-0.125)(77.91,-0.125)(78.07,-0.125)(82.56,-0.125)(83.21,-0.125)(84.62,-0.125)(84.78,-0.125)(84.95,-0.125)(92.75,-0.125)(98.04,-0.125)(102.45,-0.125)(111.63,-0.125)(112.08,-0.125)(112.20,-0.125)(113.97,-0.125)};
\end{axis}
% ---------------- strips, axis title, legend title ----------------
\foreach \t/\b/\lab in {-3.25/-111/Ideal, -118/-225.75/Missing\_data, -232.75/-340.5/Missing\_data\_recomb}{
  \draw[draw=g50, fill=g80, line width=0.5pt] (859.75pt,\t pt) rectangle (881.75pt,\b pt);
  \node[rotate=-90, inner sep=0pt, text=black!90, font=\fontsize{10}{12}\selectfont] at (870.75pt,{(\t+\b)/2*1pt}) {\lab};
}
\node[rotate=90, inner sep=0pt, font=\fontsize{13}{15}\selectfont] at (5.75pt,-171.9pt) {name};
\node[anchor=base west, inner sep=0pt, font=\fontsize{13}{15}\selectfont] at (890.5pt,-163.75pt) {origin};
\pgfresetboundingbox
\path[use as bounding box] (0pt,0pt) rectangle (938pt,-356pt);
\end{tikzpicture}
\end{document}
